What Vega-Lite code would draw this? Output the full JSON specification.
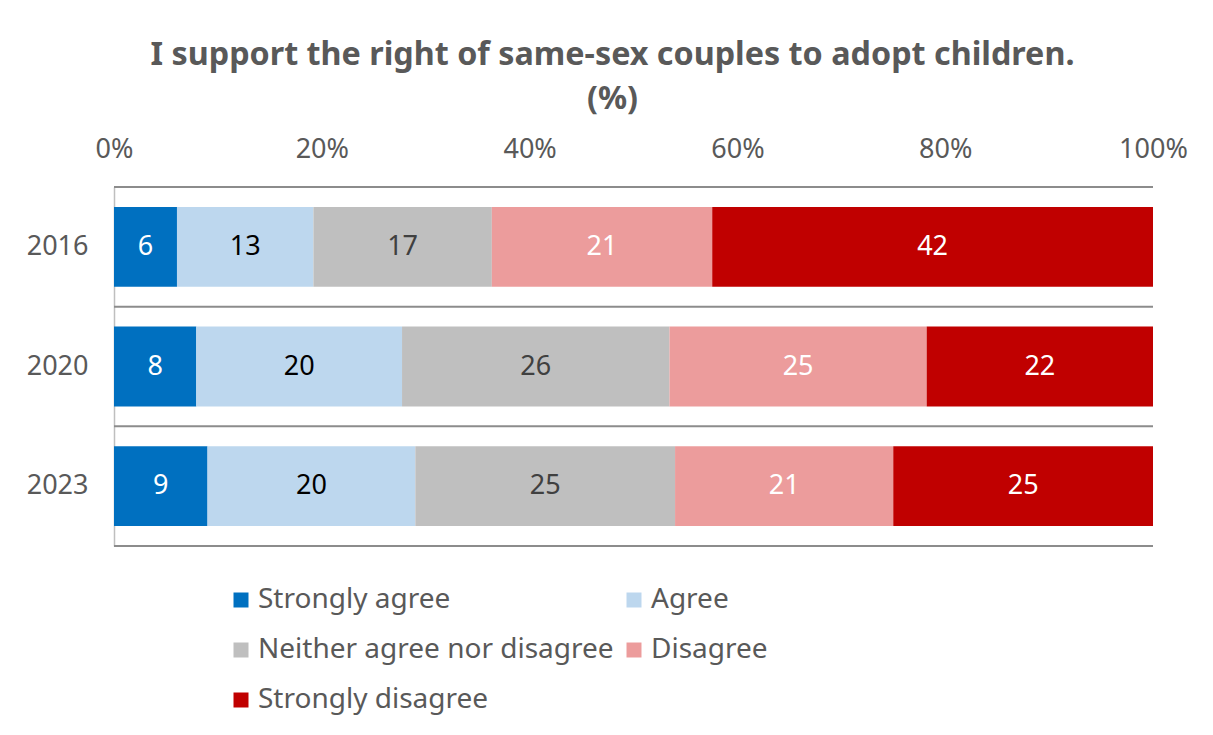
{
  "$schema": "https://vega.github.io/schema/vega-lite/v6.json",
  "width": 1039,
  "height": 359,
  "autosize": {"type": "none"},
  "padding": {"left": 114, "top": 187, "right": 60, "bottom": 189},
  "background": "white",
  "title": {
    "text": ["I support the right of same-sex couples to adopt children.", "(%)"],
    "font": "Noto Sans",
    "fontSize": 32.3,
    "fontWeight": "bold",
    "color": "#595959",
    "lineHeight": 44,
    "dx": -21,
    "offset": 20
  },
  "config": {
    "font": "Noto Sans",
    "view": {"stroke": null}
  },
  "data": {
    "values": [
      {"year": "2016", "response": "Strongly agree", "rank": 1, "value": 6},
      {"year": "2016", "response": "Agree", "rank": 2, "value": 13},
      {"year": "2016", "response": "Neither agree nor disagree", "rank": 3, "value": 17},
      {"year": "2016", "response": "Disagree", "rank": 4, "value": 21},
      {"year": "2016", "response": "Strongly disagree", "rank": 5, "value": 42},
      {"year": "2020", "response": "Strongly agree", "rank": 1, "value": 8},
      {"year": "2020", "response": "Agree", "rank": 2, "value": 20},
      {"year": "2020", "response": "Neither agree nor disagree", "rank": 3, "value": 26},
      {"year": "2020", "response": "Disagree", "rank": 4, "value": 25},
      {"year": "2020", "response": "Strongly disagree", "rank": 5, "value": 22},
      {"year": "2023", "response": "Strongly agree", "rank": 1, "value": 9},
      {"year": "2023", "response": "Agree", "rank": 2, "value": 20},
      {"year": "2023", "response": "Neither agree nor disagree", "rank": 3, "value": 25},
      {"year": "2023", "response": "Disagree", "rank": 4, "value": 21},
      {"year": "2023", "response": "Strongly disagree", "rank": 5, "value": 25}
    ]
  },
  "transform": [
    {"stack": "value", "groupby": ["year"], "offset": "normalize", "sort": [{"field": "rank", "order": "ascending"}], "as": ["x0", "x1"]},
    {"calculate": "(datum.x0 + datum.x1) / 2", "as": "xmid"}
  ],
  "layer": [
    {
      "transform": [{"filter": "datum.rank == 1"}],
      "mark": {"type": "rule", "color": "#8c8c8c", "strokeWidth": 2},
      "encoding": {
        "y": {"field": "year", "type": "nominal", "bandPosition": -0.25}
      }
    },
    {
      "transform": [{"filter": "datum.rank == 1 && datum.year == '2023'"}],
      "mark": {"type": "rule", "color": "#8c8c8c", "strokeWidth": 2},
      "encoding": {
        "y": {"field": "year", "type": "nominal", "bandPosition": 1.25}
      }
    },
    {
      "mark": {"type": "bar"},
      "encoding": {
        "y": {
          "field": "year",
          "type": "nominal",
          "title": null,
          "scale": {"paddingInner": 0.3333, "paddingOuter": 0.1667},
          "axis": {
            "ticks": false,
            "grid": false,
            "domain": true,
            "domainColor": "#bfbfbf",
            "domainWidth": 1.5,
            "labelFontSize": 27,
            "labelColor": "#595959",
            "labelPadding": 26
          }
        },
        "x": {
          "field": "x0",
          "type": "quantitative",
          "scale": {"domain": [0, 1], "nice": false},
          "title": null,
          "axis": {
            "orient": "top",
            "format": "%",
            "values": [0, 0.2, 0.4, 0.6, 0.8, 1],
            "grid": false,
            "ticks": false,
            "domain": false,
            "labelFontSize": 27,
            "labelColor": "#595959",
            "labelPadding": 24,
            "labelFlush": false
          }
        },
        "x2": {"field": "x1"},
        "color": {
          "field": "response",
          "type": "nominal",
          "sort": ["Strongly agree", "Agree", "Neither agree nor disagree", "Disagree", "Strongly disagree"],
          "scale": {
            "domain": ["Strongly agree", "Agree", "Neither agree nor disagree", "Disagree", "Strongly disagree"],
            "range": ["#0070C0", "#BDD7EE", "#BFBFBF", "#EC9C9C", "#C00000"]
          },
          "legend": {
            "title": null,
            "orient": "none",
            "legendX": 113,
            "legendY": 399,
            "columns": 2,
            "direction": "horizontal",
            "symbolType": "square",
            "symbolSize": 225,
            "symbolStrokeWidth": 0,
            "labelFontSize": 28,
            "labelColor": "#595959",
            "labelOffset": 3,
            "labelLimit": 600,
            "rowPadding": 22,
            "columnPadding": 6
          }
        }
      }
    },
    {
      "mark": {"type": "text", "fontSize": 27, "align": "center", "baseline": "middle"},
      "encoding": {
        "y": {"field": "year", "type": "nominal"},
        "x": {"field": "xmid", "type": "quantitative"},
        "text": {"field": "value", "type": "quantitative"},
        "color": {
          "field": "response",
          "type": "nominal",
          "scale": {
            "domain": ["Strongly agree", "Agree", "Neither agree nor disagree", "Disagree", "Strongly disagree"],
            "range": ["#ffffff", "#000000", "#404040", "#ffffff", "#ffffff"]
          },
          "legend": null
        }
      }
    }
  ],
  "resolve": {"scale": {"color": "independent"}}
}
